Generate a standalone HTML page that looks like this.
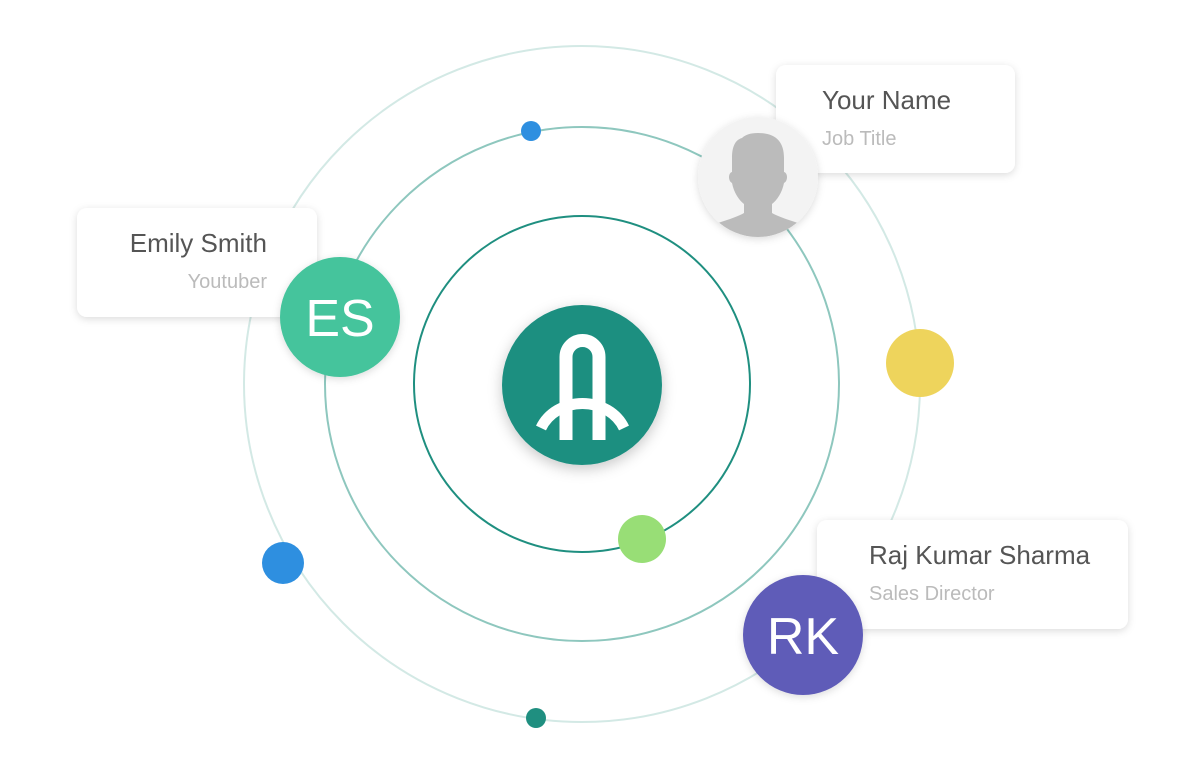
<!DOCTYPE html>
<html><head><meta charset="utf-8"><style>
html,body{margin:0;padding:0;background:#fff;}
svg{display:block;font-family:"Liberation Sans",sans-serif;}
</style></head><body>
<svg width="1200" height="770" viewBox="0 0 1200 770" xmlns="http://www.w3.org/2000/svg">
<defs>
<filter id="sh" x="-20%" y="-20%" width="140%" height="140%"><feDropShadow dx="0" dy="2" stdDeviation="4" flood-color="#000" flood-opacity="0.14"/></filter>
<filter id="sh2" x="-30%" y="-30%" width="160%" height="160%"><feDropShadow dx="0" dy="4" stdDeviation="7" flood-color="#000" flood-opacity="0.22"/></filter>
<clipPath id="av"><circle cx="758" cy="177" r="60"/></clipPath>
</defs>
<circle cx="582" cy="384" r="338" fill="none" stroke="#d3e9e5" stroke-width="2"/>
<circle cx="582" cy="384" r="257" fill="none" stroke="#8ec7be" stroke-width="2"/>
<circle cx="582" cy="384" r="168" fill="none" stroke="#1f8f80" stroke-width="2"/>

<circle cx="531" cy="131" r="10" fill="#2e8fe0"/>
<circle cx="920" cy="363" r="34" fill="#eed45c"/>
<circle cx="642" cy="539" r="24" fill="#98de76"/>
<circle cx="283" cy="563" r="21" fill="#2e8fe0"/>
<circle cx="536" cy="718" r="10" fill="#1f8f80"/>

<circle cx="582" cy="385" r="80" fill="#1f8f80" filter="url(#sh2)"/>
<path d="M566 440 V357 A16.5 16.5 0 0 1 599 357 V440" fill="none" stroke="#fff" stroke-width="13"/>
<path d="M541 428 A45 40 0 0 1 624 428" fill="none" stroke="#fff" stroke-width="11"/>

<rect x="776" y="65" width="239" height="108" rx="10" fill="#fff" filter="url(#sh)"/>
<text x="822" y="109" font-size="26" fill="#555">Your Name</text>
<text x="822" y="145" font-size="20" fill="#bbb">Job Title</text>
<circle cx="758" cy="177" r="60" fill="#f3f3f3" filter="url(#sh)"/>
<g clip-path="url(#av)" fill="#bbb">
<path d="M758 133 c-8 0 -13 2 -16 5 c-7 2 -10 9 -10 20 v14 c-4 1 -4 9 0 11 c2 10 7 17 12 21 v9 c-10 6 -30 10 -37 15 c-7 4 -10 12 -10 20 h122 c0 -8 -3 -16 -10 -20 c-7 -5 -27 -9 -37 -15 v-9 c5 -4 10 -11 12 -21 c4 -2 4 -10 0 -11 v-14 c0 -16 -8 -25 -26 -25z"/>
</g>

<rect x="77" y="208" width="240" height="109" rx="10" fill="#fff" filter="url(#sh)"/>
<text x="267" y="252" font-size="26" fill="#555" text-anchor="end">Emily Smith</text>
<text x="267" y="288" font-size="20" fill="#bbb" text-anchor="end">Youtuber</text>
<circle cx="340" cy="317" r="60" fill="#45c49c" filter="url(#sh)"/>
<text x="340" y="336" font-size="52" fill="#fff" text-anchor="middle">ES</text>

<rect x="817" y="520" width="311" height="109" rx="10" fill="#fff" filter="url(#sh)"/>
<text x="869" y="564" font-size="26" fill="#555">Raj Kumar Sharma</text>
<text x="869" y="600" font-size="20" fill="#bbb">Sales Director</text>
<circle cx="803" cy="635" r="60" fill="#5f5cb8" filter="url(#sh)"/>
<text x="803" y="654" font-size="52" fill="#fff" text-anchor="middle">RK</text>
</svg>
</body></html>
